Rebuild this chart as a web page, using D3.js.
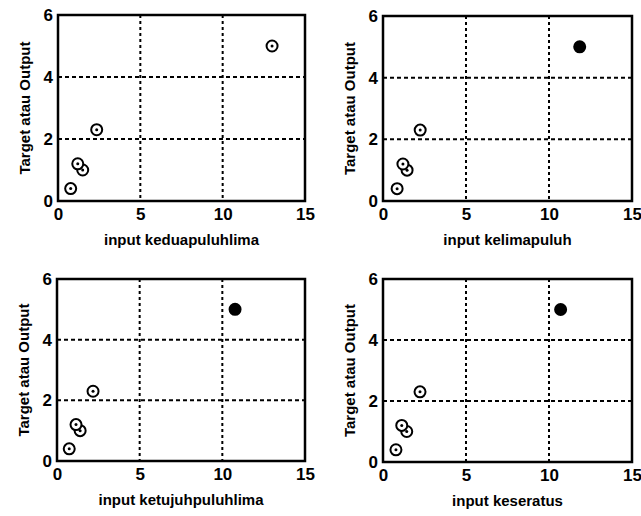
<!DOCTYPE html>
<html>
<head>
<meta charset="utf-8">
<script src="https://cdn.jsdelivr.net/npm/d3@7"></script>
<style>
  body { margin: 0; background: #fff; }
  text { font-family: "Liberation Sans", Arial, sans-serif; font-weight: bold; fill: #000; }
</style>
</head>
<body>
<div id="chart"></div>
<script>
// SCATTER PANELS (2 x 2)

// Data

var target = [0.4, 1.0, 1.2, 2.3, 5.0];                 // Target values (same in every panel)
var inputDuaPuluhLima = [0.77, 1.5, 1.2, 2.35, 13.0];
var inputLimaPuluh = [0.85, 1.45, 1.2, 2.24, 11.85];
var inputTujuhPuluhLima = [0.74, 1.4, 1.15, 2.18, 10.77];
var inputSeratus = [0.78, 1.43, 1.13, 2.23, 10.7];
var xTicks = [0, 5, 10, 15];
var yTicks = [0, 2, 4, 6];
var xLabels = ["input keduapuluhlima", "input kelimapuluh", "input ketujuhpuluhlima", "input keseratus"];
var inputs = [inputDuaPuluhLima, inputLimaPuluh, inputTujuhPuluhLima, inputSeratus];
var filledLast = [false, true, true, true];            // last point drawn solid in 3 panels

// Chart variables

var W = 641, H = 516;
var panels = [
    {left: 58, top: 15, width: 247, height: 186},
    {left: 383, top: 16, width: 249, height: 185},
    {left: 57, top: 279, width: 248, height: 182},
    {left: 383, top: 279, width: 249, height: 183}
];

var svg = d3.select("#chart").append("svg")
    .attr("width", W)
    .attr("height", H);

panels.forEach(function(p, i) {

    var g = svg.append("g")
        .attr("transform", "translate(" + p.left + "," + p.top + ")");

    var x = d3.scaleLinear().domain([0, 15]).range([0, p.width]);
    var y = d3.scaleLinear().domain([0, 6]).range([p.height, 0]);

    // Grid lines (dotted)
    g.selectAll(".vgrid")
        .data([5, 10])
        .enter().append("line")
        .attr("x1", function(d) { return x(d); })
        .attr("x2", function(d) { return x(d); })
        .attr("y1", 0)
        .attr("y2", p.height)
        .attr("stroke", "#000")
        .attr("stroke-width", 2)
        .attr("stroke-dasharray", "3,3");

    g.selectAll(".hgrid")
        .data([2, 4])
        .enter().append("line")
        .attr("x1", 0)
        .attr("x2", p.width)
        .attr("y1", function(d) { return y(d); })
        .attr("y2", function(d) { return y(d); })
        .attr("stroke", "#000")
        .attr("stroke-width", 2)
        .attr("stroke-dasharray", "4,3");

    // Axes
    var xAxis = d3.axisBottom(x).tickValues(xTicks).tickFormat(d3.format("d")).tickSize(0).tickPadding(7);
    var yAxis = d3.axisLeft(y).tickValues(yTicks).tickFormat(d3.format("d")).tickSize(0).tickPadding(5);

    g.append("g")
        .attr("transform", "translate(0," + p.height + ")")
        .call(xAxis)
        .call(function(a) { a.select(".domain").remove(); })
        .selectAll("text")
        .style("font-size", "17px");

    g.append("g")
        .call(yAxis)
        .call(function(a) { a.select(".domain").remove(); })
        .selectAll("text")
        .style("font-size", "17px");

    // Frame
    g.append("rect")
        .attr("width", p.width)
        .attr("height", p.height)
        .attr("fill", "none")
        .attr("stroke", "#000")
        .attr("stroke-width", 2.5);

    // Points
    var pts = inputs[i].map(function(v, j) { return {x: v, y: target[j], last: j === target.length - 1}; });

    g.selectAll(".pt")
        .data(pts)
        .enter().append("circle")
        .attr("cx", function(d) { return x(d.x); })
        .attr("cy", function(d) { return y(d.y); })
        .attr("r", 5.5)
        .attr("fill", function(d) { return (d.last && filledLast[i]) ? "#000" : "#fff"; })
        .attr("stroke", "#000")
        .attr("stroke-width", 2);

    g.selectAll(".dot")
        .data(pts)
        .enter().append("circle")
        .attr("cx", function(d) { return x(d.x); })
        .attr("cy", function(d) { return y(d.y); })
        .attr("r", 1.5)
        .attr("fill", "#000");

    // Labels
    g.append("text")
        .attr("x", p.width / 2)
        .attr("y", p.height + 44)
        .attr("text-anchor", "middle")
        .style("font-size", "15px")
        .text(xLabels[i]);

    g.append("text")
        .attr("transform", "translate(-28," + (p.height / 2) + ") rotate(-90)")
        .attr("text-anchor", "middle")
        .style("font-size", "15px")
        .text("Target atau Output");
});
</script>
</body>
</html>
